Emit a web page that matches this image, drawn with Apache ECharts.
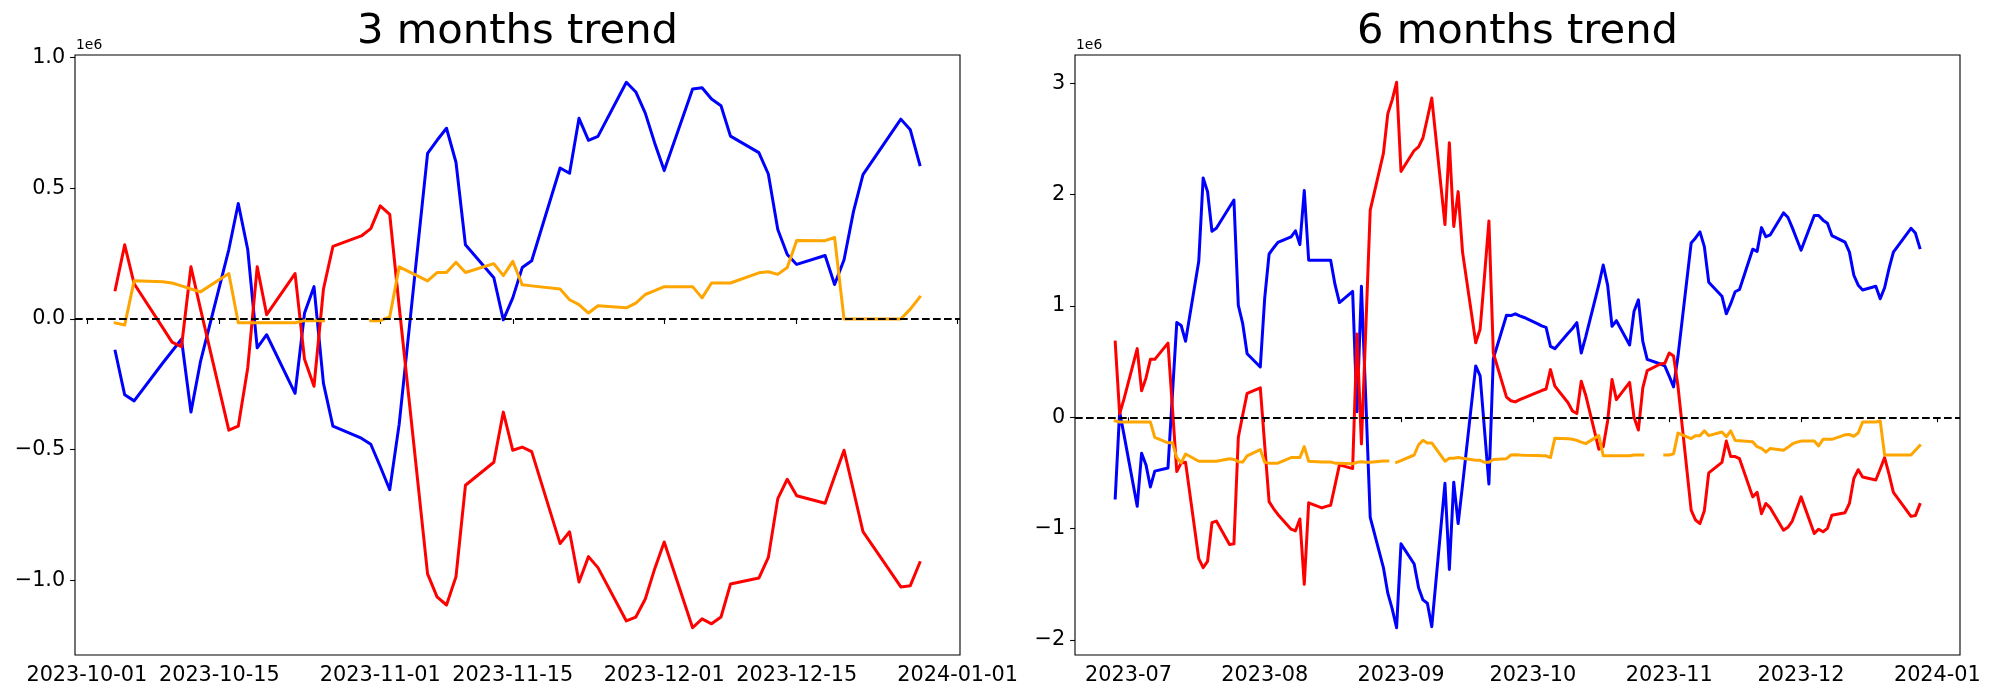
<!DOCTYPE html>
<html><head><meta charset="utf-8">
<script src="https://cdn.jsdelivr.net/npm/echarts@6/dist/echarts.min.js"></script>
<style>html,body{margin:0;padding:0;background:#fff}#c{width:2000px;height:700px}</style>
</head><body><div id="c"></div>
<script>
// ---------- 3 months trend ----------
const dates3m = ['2023-10-04','2023-10-05','2023-10-06','2023-10-09','2023-10-10','2023-10-11','2023-10-12','2023-10-13',
'2023-10-16','2023-10-17','2023-10-18','2023-10-19','2023-10-20','2023-10-23','2023-10-24','2023-10-25','2023-10-26','2023-10-27',
'2023-10-30','2023-10-31','2023-11-01','2023-11-02','2023-11-03','2023-11-06','2023-11-07','2023-11-08','2023-11-09','2023-11-10',
'2023-11-13','2023-11-14','2023-11-15','2023-11-16','2023-11-17','2023-11-20','2023-11-21','2023-11-22','2023-11-23','2023-11-24',
'2023-11-27','2023-11-28','2023-11-29','2023-11-30','2023-12-01','2023-12-04','2023-12-05','2023-12-06','2023-12-07','2023-12-08',
'2023-12-11','2023-12-12','2023-12-13','2023-12-14','2023-12-15','2023-12-18','2023-12-19','2023-12-20','2023-12-21','2023-12-22',
'2023-12-26','2023-12-27','2023-12-28'];
const blue3m = [-123000,-290000,-313000,-169000,-123000,-77000,-356000,-164000,
266000,442000,266000,-110000,-60000,-284000,23000,124000,-246000,-410000,
-456000,-479000,-564000,-653000,-402000,634000,684000,730000,600000,284000,
158000,-3000,81000,197000,223000,578000,558000,768000,684000,699000,
906000,869000,788000,673000,568000,880000,885000,842000,816000,700000,
637000,555000,343000,247000,209000,243000,132000,227000,412000,553000,
765000,724000,591000];
const red3m = [112000,284000,135000,-32000,-88000,-106000,200000,40000,
-425000,-410000,-187000,200000,17000,174000,-154000,-257000,115000,278000,
318000,346000,433000,401000,48000,-975000,-1063000,-1094000,-986000,-636000,
-548000,-356000,-502000,-490000,-507000,-859000,-814000,-1006000,-909000,-951000,
-1155000,-1140000,-1071000,-955000,-853000,-1181000,-1147000,-1166000,-1140000,-1014000,
-991000,-912000,-687000,-613000,-676000,-705000,-602000,-502000,-657000,-813000,
-1025000,-1020000,-932000];
const orange3m = [-15000,-23000,147000,143000,138000,127000,115000,104000,
174000,-14000,-14000,-14000,-14000,-14000,-6000,-6000,-6000,null,
null,-6000,-6000,8000,200000,146000,178000,178000,217000,178000,
212000,166000,221000,131000,127000,115000,74000,55000,23000,51000,
43000,61000,94000,109000,124000,124000,81000,138000,138000,138000,
177000,181000,171000,197000,301000,300000,312000,0,0,0,
0,38000,84000];
const xTicks3m = ['2023-10-01','2023-10-15','2023-11-01','2023-11-15','2023-12-01','2023-12-15','2024-01-01'];
const yTicks3m = [-1000000,-500000,0,500000,1000000];

// ---------- 6 months trend ----------
const dates6m = ['2023-06-28','2023-06-29','2023-06-30','2023-07-03','2023-07-04','2023-07-05','2023-07-06','2023-07-07',
'2023-07-10','2023-07-11','2023-07-12','2023-07-13','2023-07-14','2023-07-17','2023-07-18','2023-07-19','2023-07-20','2023-07-21',
'2023-07-24','2023-07-25','2023-07-26','2023-07-27','2023-07-28','2023-07-31','2023-08-01','2023-08-02','2023-08-03','2023-08-04',
'2023-08-07','2023-08-08','2023-08-09','2023-08-10','2023-08-11','2023-08-14','2023-08-15','2023-08-16','2023-08-17','2023-08-18',
'2023-08-21','2023-08-22','2023-08-23','2023-08-24','2023-08-25','2023-08-28','2023-08-29','2023-08-30','2023-08-31','2023-09-01',
'2023-09-04','2023-09-05','2023-09-06','2023-09-07','2023-09-08','2023-09-11','2023-09-12','2023-09-13','2023-09-14','2023-09-15',
'2023-09-18','2023-09-19','2023-09-20','2023-09-21','2023-09-22','2023-09-25','2023-09-26','2023-09-27','2023-09-28','2023-09-29',
'2023-10-02','2023-10-03','2023-10-04','2023-10-05','2023-10-06','2023-10-09','2023-10-10','2023-10-11','2023-10-12','2023-10-13',
'2023-10-16','2023-10-17','2023-10-18','2023-10-19','2023-10-20','2023-10-23','2023-10-24','2023-10-25','2023-10-26','2023-10-27',
'2023-10-30','2023-10-31','2023-11-01','2023-11-02','2023-11-03','2023-11-06','2023-11-07','2023-11-08','2023-11-09','2023-11-10',
'2023-11-13','2023-11-14','2023-11-15','2023-11-16','2023-11-17','2023-11-20','2023-11-21','2023-11-22','2023-11-23','2023-11-24',
'2023-11-27','2023-11-28','2023-11-29','2023-11-30','2023-12-01','2023-12-04','2023-12-05','2023-12-06','2023-12-07','2023-12-08',
'2023-12-11','2023-12-12','2023-12-13','2023-12-14','2023-12-15','2023-12-18','2023-12-19','2023-12-20','2023-12-21','2023-12-22',
'2023-12-26','2023-12-27','2023-12-28'];
const blue6m = [-725000,49000,-158000,-800000,-323000,-428000,-626000,-484000,
-455000,198000,850000,824000,682000,1400000,2148000,2026000,1670000,1697000,
1888000,1950000,1005000,840000,570000,451000,1070000,1466000,1520000,1570000,
1620000,1674000,1550000,2036000,1410000,1410000,1410000,1410000,1190000,1030000,
1130000,50000,1176000,150000,-900000,-1350000,-1580000,-1720000,-1890000,-1137000,
-1318000,-1530000,-1640000,-1670000,-1880000,-593000,-1367000,-583000,-955000,-610000,
461000,372000,-115000,-600000,527000,916000,913000,929000,910000,896000,
840000,820000,807000,636000,616000,754000,797000,850000,577000,720000,
1190000,1367000,1186000,817000,867000,649000,949000,1054000,682000,520000,
478000,461000,370000,273000,547000,1565000,1610000,1664000,1532000,1213000,
1087000,929000,1020000,1127000,1147000,1509000,1489000,1703000,1621000,1638000,
1835000,1796000,1703000,1600000,1499000,1812000,1812000,1770000,1743000,1631000,
1572000,1483000,1275000,1186000,1143000,1176000,1064000,1163000,1334000,1483000,
1697000,1654000,1522000];
const red6m = [675000,30000,165000,616000,237000,353000,520000,520000,
666000,90000,-488000,-410000,-405000,-1270000,-1350000,-1295000,-946000,-932000,
-1143000,-1137000,-180000,20000,214000,264000,-250000,-758000,-820000,-873000,
-1005000,-1020000,-913000,-1500000,-768000,-814000,-800000,-790000,-610000,-428000,
-461000,748000,-240000,800000,1860000,2370000,2725000,2850000,3008000,2207000,
2395000,2428000,2510000,2685000,2866000,1730000,2465000,1713000,2026000,1483000,
669000,791000,1270000,1763000,577000,181000,148000,138000,158000,175000,
224000,240000,254000,428000,280000,130000,56000,33000,323000,200000,
-287000,-264000,-33000,339000,158000,313000,0,-115000,264000,418000,
478000,484000,577000,550000,280000,-834000,-923000,-955000,-840000,-500000,
-405000,-214000,-353000,-353000,-372000,-715000,-675000,-866000,-774000,-814000,
-1015000,-988000,-932000,-824000,-715000,-1044000,-1005000,-1028000,-998000,-880000,
-857000,-774000,-550000,-471000,-537000,-563000,-465000,-362000,-510000,-675000,
-890000,-883000,-784000];
const orange6m = [-33000,-43000,-43000,-43000,-43000,-43000,-43000,-181000,
-230000,-230000,-362000,-410000,-330000,-395000,-395000,-395000,-395000,-395000,
-372000,-379000,-399000,-402000,-346000,-290000,-405000,-412000,-412000,-412000,
-362000,-362000,-362000,-264000,-395000,-402000,-402000,-402000,-412000,-412000,
-418000,-405000,-399000,-405000,-405000,-392000,-392000,null,-405000,-389000,
-339000,-247000,-208000,-231000,-231000,-395000,-369000,-369000,-362000,-369000,
-386000,-386000,-405000,-405000,-379000,-372000,-339000,-336000,-340000,-342000,
-343000,-345000,-346000,-362000,-188000,-194000,-198000,-208000,-224000,-237000,
-165000,-346000,-346000,-346000,-346000,-346000,-339000,-339000,-339000,null,
null,-339000,-339000,-329000,-142000,-191000,-165000,-165000,-122000,-165000,
-132000,-175000,-122000,-208000,-211000,-221000,-264000,-280000,-313000,-280000,
-297000,-270000,-240000,-224000,-214000,-214000,-257000,-198000,-198000,-198000,
-158000,-155000,-171000,-142000,-43000,-43000,-33000,-339000,-339000,-339000,
-339000,-297000,-254000];
const xTicks6m = ['2023-07-01','2023-08-01','2023-09-01','2023-10-01','2023-11-01','2023-12-01','2024-01-01'];
const yTicks6m = [-2000000,-1000000,0,1000000,2000000,3000000];

const titles = ['3 months trend', '6 months trend'];
const offsetLabel = '1e6';
const COLORS = {blue:'#0000ff', red:'#ff0000', orange:'#ffa500'};

// ---------- helpers ----------
const FONT = 'DejaVu Sans';
function ts(s){ const p = s.split('-').map(Number); return Date.UTC(p[0], p[1]-1, p[2]); }
function pairs(dates, vals){ return dates.map((d,i)=>[ts(d), vals[i]]); }
function padRange(lo, hi){ const m = (hi-lo)*0.05; return [lo-m, hi+m]; }
function yRange(lists){
  let lo=Infinity, hi=-Infinity;
  lists.forEach(l=>l.forEach(v=>{ if(v!==null){ lo=Math.min(lo,v); hi=Math.max(hi,v);} }));
  return padRange(lo, hi);
}
const minus = s => s.replace('-', '\u2212');

const GRIDS = [
  {left:75, top:55, width:885, height:600},
  {left:1075, top:55, width:885, height:600}
];

const panels = [
  {dates:dates3m, b:blue3m, r:red3m, o:orange3m, xt:xTicks3m, yt:yTicks3m, xfmt:v=>new Date(v).toISOString().slice(0,10), yfmt:v=>minus((v/1e6).toFixed(1))},
  {dates:dates6m, b:blue6m, r:red6m, o:orange6m, xt:xTicks6m, yt:yTicks6m, xfmt:v=>new Date(v).toISOString().slice(0,7), yfmt:v=>minus((v/1e6).toFixed(0))}
];

const grid=[], xAxis=[], yAxis=[], series=[], graphic=[];
const tickStyle = {show:true, inside:false, length:4.9, lineStyle:{color:'#000', width:1.1}};
const labelStyle = {color:'#000', fontFamily:FONT, fontSize:20.8};

panels.forEach((p,i)=>{
  grid.push(Object.assign({show:true, borderColor:'#000', borderWidth:1.1, backgroundColor:'#fff', containLabel:false}, GRIDS[i]));
  const xr = padRange(ts(p.dates[0]), ts(p.dates[p.dates.length-1]));
  const yr = yRange([p.b, p.r, p.o]);
  xAxis.push({type:'value', gridIndex:i, min:xr[0], max:xr[1], scale:true,
    axisLine:{show:false}, splitLine:{show:false},
    axisTick:Object.assign({customValues:p.xt.map(ts)}, tickStyle),
    axisLabel:Object.assign({customValues:p.xt.map(ts), margin:9.8, formatter:p.xfmt, hideOverlap:false}, labelStyle)});
  yAxis.push({type:'value', gridIndex:i, min:yr[0], max:yr[1], scale:true,
    axisLine:{show:false}, splitLine:{show:false},
    axisTick:Object.assign({customValues:p.yt}, tickStyle),
    axisLabel:Object.assign({customValues:p.yt, margin:9.8, formatter:p.yfmt}, labelStyle)});
  const mk = (vals, color, extra) => Object.assign({
    type:'line', xAxisIndex:i, yAxisIndex:i, data:pairs(p.dates, vals),
    showSymbol:false, symbol:'none', connectNulls:false, animation:false, silent:true,
    lineStyle:{color:color, width:3, cap:'square', join:'round'}, itemStyle:{color:color}
  }, extra||{});
  series.push(mk(p.b, COLORS.blue));
  series.push(mk(p.r, COLORS.red));
  series.push(mk(p.o, COLORS.orange, {markLine:{silent:true, symbol:['none','none'], animation:false,
    label:{show:false}, lineStyle:{color:'#000', type:[7.7,3.3], width:2.1},
    data:[{yAxis:0}]}}));
  graphic.push({type:'text', x:GRIDS[i].left + GRIDS[i].width/2, y:11, silent:true,
    style:{text:titles[i], fill:'#000', font:'41.7px "DejaVu Sans"', textAlign:'center', textVerticalAlign:'top'}});
  graphic.push({type:'text', x:GRIDS[i].left + 1, y:38, silent:true,
    style:{text:offsetLabel, fill:'#000', font:'13.9px "DejaVu Sans"', textAlign:'left', textVerticalAlign:'top'}});
});

const chart = echarts.init(document.getElementById('c'), null, {renderer:'canvas'});
chart.setOption({animation:false, backgroundColor:'#fff', grid, xAxis, yAxis, series, graphic});
</script>
</body></html>
